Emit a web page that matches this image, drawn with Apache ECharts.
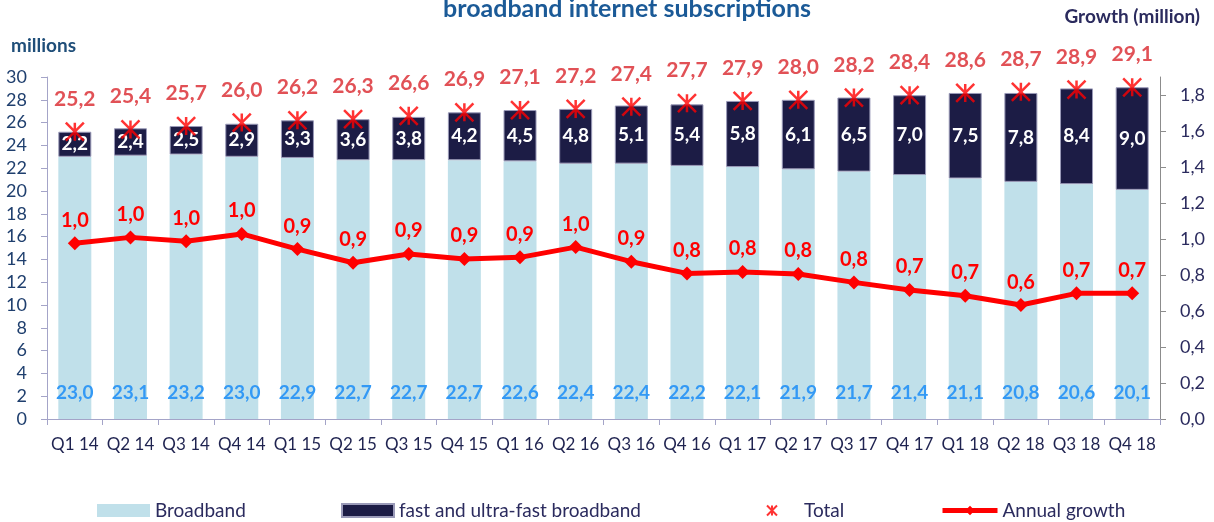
<!DOCTYPE html>
<html>
<head>
<meta charset="utf-8">
<script src="https://cdn.jsdelivr.net/npm/echarts@6/dist/echarts.min.js"></script>
<style>
  html, body { margin: 0; padding: 0; background: #fff; }
  #chart { width: 1214px; height: 522px; }
</style>
</head>
<body>
<div id="chart"></div>
<script>
// quarters
const quarters = ['Q1 14', 'Q2 14', 'Q3 14', 'Q4 14', 'Q1 15', 'Q2 15', 'Q3 15', 'Q4 15',
  'Q1 16', 'Q2 16', 'Q3 16', 'Q4 16', 'Q1 17', 'Q2 17', 'Q3 17', 'Q4 17',
  'Q1 18', 'Q2 18', 'Q3 18', 'Q4 18'];
// millions
const broadband = [23.0, 23.1, 23.2, 23.0, 22.9, 22.7, 22.7, 22.7, 22.6, 22.4,
  22.4, 22.2, 22.1, 21.9, 21.7, 21.4, 21.1, 20.8, 20.6, 20.1];
const fastBroadband = [2.2, 2.4, 2.5, 2.9, 3.3, 3.6, 3.8, 4.2, 4.5, 4.8,
  5.1, 5.4, 5.8, 6.1, 6.5, 7.0, 7.5, 7.8, 8.4, 9.0];
const total = [25.2, 25.4, 25.7, 26.0, 26.2, 26.3, 26.6, 26.9, 27.1, 27.2,
  27.4, 27.7, 27.9, 28.0, 28.2, 28.4, 28.6, 28.7, 28.9, 29.1];
// growth (million), right axis
const annualGrowth = [0.976, 1.009, 0.987, 1.028, 0.944, 0.868, 0.917, 0.889, 0.898, 0.955,
  0.874, 0.809, 0.817, 0.806, 0.759, 0.717, 0.685, 0.633, 0.698, 0.698];
const rightTicks = [0, 0.2, 0.4, 0.6, 0.8, 1.0, 1.2, 1.4, 1.6, 1.8];

const FONT = 'Lato';
const comma = (v, d) => v.toFixed(d).replace('.', ',');
const starPath = 'path://M0 0L10 10M10 0L0 10M5 0L5 10';
const legendText = { fontFamily: FONT, fontSize: 19, color: '#2B2B5E' };

const chart = echarts.init(document.getElementById('chart'));

chart.setOption({
  animation: false,
  textStyle: { fontFamily: FONT },
  title: {
    text: 'broadband internet subscriptions',
    left: 438,
    top: -9,
    textStyle: { fontFamily: FONT, fontSize: 25, fontWeight: 'bold', color: '#1B5A97' }
  },
  graphic: [
    {
      type: 'text', left: 11, top: 36,
      style: { text: 'millions', font: 'bold 19px Lato', fill: '#1F4E79' }
    },
    {
      type: 'text', right: 14, top: 7,
      style: { text: 'Growth (million)', font: 'bold 19px Lato', fill: '#2B2B5E' }
    }
  ],
  grid: { left: 47, right: 54, top: 77, bottom: 103, containLabel: false },
  legend: [
    {
      left: 97, top: 501, padding: 0, itemWidth: 53, itemHeight: 13,
      data: [{ name: 'Broadband', icon: 'rect' }],
      textStyle: legendText
    },
    {
      left: 341, top: 501, padding: 0, itemWidth: 52, itemHeight: 13,
      data: [{ name: 'fast and ultra-fast broadband', icon: 'rect' }],
      textStyle: legendText
    },
    {
      left: 766, top: 501, padding: 0, itemWidth: 10, itemHeight: 10,
      data: [{ name: 'Total', icon: starPath }],
      itemStyle: { color: 'rgba(0,0,0,0)', borderColor: '#FF0000', borderWidth: 2 },
      textStyle: Object.assign({}, legendText, { padding: [0, 0, 0, 22] })
    },
    {
      left: 940, top: 501, padding: 0, itemWidth: 55, itemHeight: 12,
      data: [{ name: 'Annual growth' }],
      lineStyle: { width: 5, color: '#FF0000' },
      textStyle: legendText
    }
  ],
  xAxis: {
    type: 'category',
    data: quarters,
    axisLine: { lineStyle: { color: '#A4A4C8', width: 1 } },
    axisTick: { show: true, alignWithLabel: false, length: 6, lineStyle: { color: '#A4A4C8' } },
    axisLabel: { interval: 0, fontFamily: FONT, fontSize: 17, color: '#1F2350', margin: 17 }
  },
  yAxis: [
    {
      type: 'value', min: 0, max: 30, interval: 2,
      axisLine: { show: true, lineStyle: { color: '#A4A4C8' } },
      axisTick: { show: true, length: 6, lineStyle: { color: '#A4A4C8' } },
      splitLine: { show: false },
      axisLabel: { fontFamily: FONT, fontSize: 18, color: '#1F3F6E', margin: 20 }
    },
    {
      type: 'value', min: 0, max: 1.9, position: 'right',
      axisLine: { show: true, lineStyle: { color: '#8C8C8C' } },
      axisTick: { show: true, length: 6, lineStyle: { color: '#8C8C8C' }, customValues: rightTicks },
      splitLine: { show: false },
      axisLabel: {
        fontFamily: FONT, fontSize: 18, color: '#2B2B5E', margin: 20,
        customValues: rightTicks,
        formatter: v => comma(v, 1)
      }
    }
  ],
  series: [
    {
      name: 'Broadband',
      type: 'bar',
      stack: 'subs',
      barWidth: 33,
      data: broadband,
      itemStyle: { color: '#C0E0EA' },
      label: {
        show: true, position: 'insideBottom', distance: 17,
        fontFamily: FONT, fontSize: 19, fontWeight: 'bold', color: '#3399F5',
        formatter: p => comma(p.value, 1)
      }
    },
    {
      name: 'fast and ultra-fast broadband',
      type: 'bar',
      stack: 'subs',
      barWidth: 33,
      data: fastBroadband,
      itemStyle: { color: '#1C1C45', borderColor: '#9A9AB8', borderWidth: 1 },
      label: {
        show: true, position: 'inside',
        fontFamily: FONT, fontSize: 19, fontWeight: 'bold', color: '#FFFFFF',
        formatter: p => comma(p.value, 1)
      }
    },
    {
      name: 'Total',
      type: 'scatter',
      data: total,
      symbol: starPath,
      symbolSize: 18,
      z: 5,
      itemStyle: { color: 'rgba(0,0,0,0)', borderColor: '#FF0000', borderWidth: 2.5 },
      label: {
        show: true, position: 'top', distance: 12,
        fontFamily: FONT, fontSize: 21, fontWeight: 'bold', color: '#D9262C',
        formatter: p => comma(p.value, 1)
      }
    },
    {
      name: 'Annual growth',
      type: 'line',
      yAxisIndex: 1,
      data: annualGrowth,
      symbol: 'diamond',
      symbolSize: 14,
      z: 6,
      lineStyle: { color: '#FF0000', width: 5 },
      itemStyle: { color: '#FF0000' },
      label: {
        show: true, position: 'top', distance: 6,
        fontFamily: FONT, fontSize: 20, fontWeight: 'bold', color: '#FF0000',
        formatter: p => comma(p.value, 1)
      }
    }
  ]
});
</script>
</body>
</html>
